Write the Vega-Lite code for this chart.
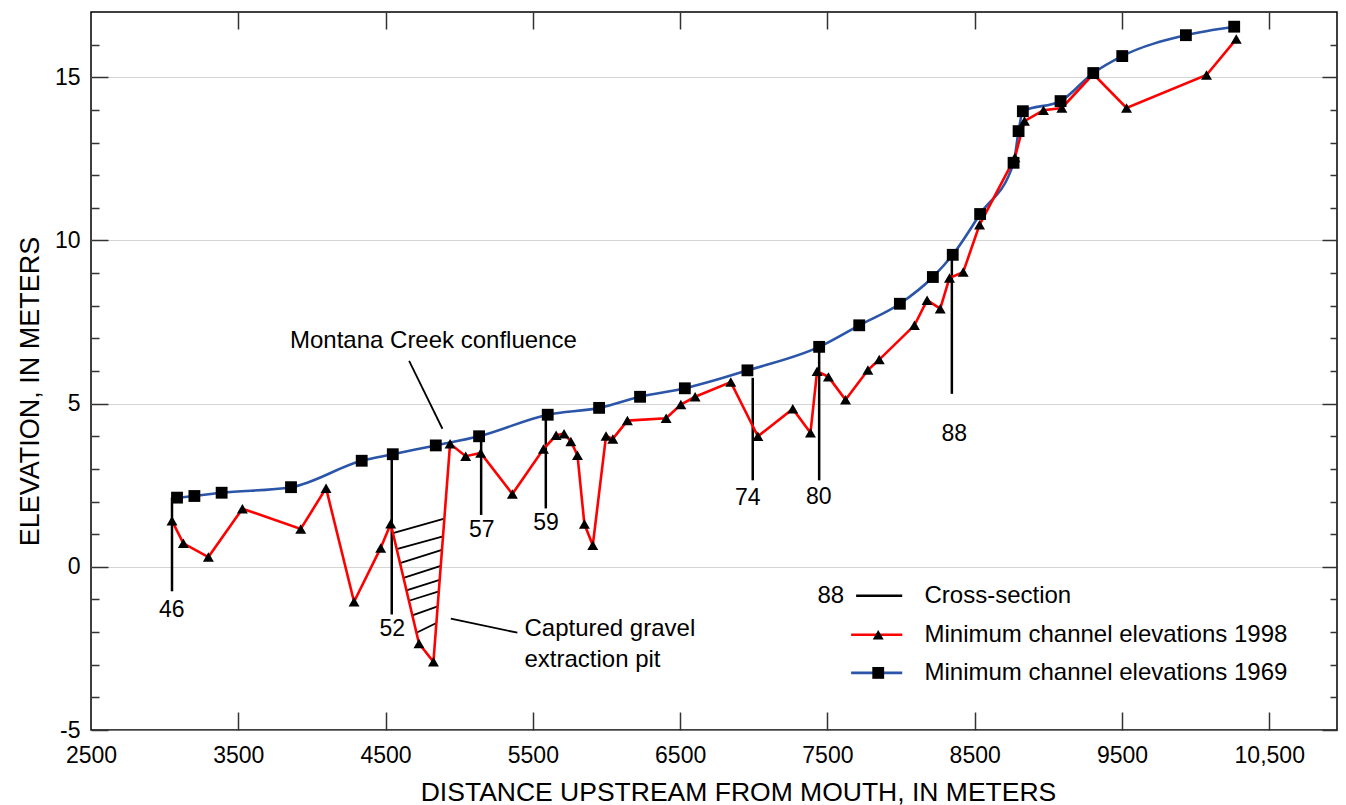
{
  "$schema": "https://vega.github.io/schema/vega-lite/v6.json",
  "width": 1246,
  "height": 718,
  "autosize": {"type": "none"},
  "padding": {"left": 91, "top": 12, "right": 9, "bottom": 75},
  "background": "#ffffff",
  "config": {
    "view": {"stroke": "#000000", "strokeWidth": 1.5},
    "font": "Liberation Sans",
    "text": {"font": "Liberation Sans", "fontSize": 23, "color": "#000000"}
  },
  "resolve": {"axis": {"x": "independent", "y": "independent"}},
  "datasets": {
    "s1969": [
      {"d": 3084, "e": 2.12}, {"d": 3202, "e": 2.17}, {"d": 3387, "e": 2.27}, {"d": 3858, "e": 2.44},
      {"d": 4338, "e": 3.25}, {"d": 4549, "e": 3.45}, {"d": 4841, "e": 3.72}, {"d": 5135, "e": 4.0},
      {"d": 5601, "e": 4.66}, {"d": 5950, "e": 4.87}, {"d": 6228, "e": 5.21}, {"d": 6532, "e": 5.47},
      {"d": 6957, "e": 6.02}, {"d": 7444, "e": 6.74}, {"d": 7716, "e": 7.4}, {"d": 7992, "e": 8.06},
      {"d": 8216, "e": 8.88}, {"d": 8351, "e": 9.56}, {"d": 8537, "e": 10.81}, {"d": 8764, "e": 12.38},
      {"d": 8798, "e": 13.35}, {"d": 8827, "e": 13.96}, {"d": 9083, "e": 14.27}, {"d": 9305, "e": 15.13},
      {"d": 9502, "e": 15.65}, {"d": 9934, "e": 16.29}, {"d": 10262, "e": 16.55}
    ],
    "s1998": [
      {"d": 3050, "e": 1.41}, {"d": 3127, "e": 0.72}, {"d": 3297, "e": 0.3}, {"d": 3528, "e": 1.78},
      {"d": 3924, "e": 1.16}, {"d": 4096, "e": 2.41}, {"d": 4286, "e": -1.07}, {"d": 4467, "e": 0.58},
      {"d": 4535, "e": 1.32}, {"d": 4727, "e": -2.35}, {"d": 4825, "e": -2.91}, {"d": 4938, "e": 3.77},
      {"d": 5044, "e": 3.39}, {"d": 5146, "e": 3.49}, {"d": 5361, "e": 2.23}, {"d": 5572, "e": 3.61},
      {"d": 5658, "e": 4.03}, {"d": 5712, "e": 4.08}, {"d": 5758, "e": 3.84}, {"d": 5803, "e": 3.42},
      {"d": 5850, "e": 1.31}, {"d": 5907, "e": 0.66}, {"d": 5997, "e": 4.01}, {"d": 6043, "e": 3.92},
      {"d": 6142, "e": 4.48}, {"d": 6405, "e": 4.55}, {"d": 6505, "e": 4.97}, {"d": 6602, "e": 5.21},
      {"d": 6844, "e": 5.66}, {"d": 7028, "e": 4.0}, {"d": 7265, "e": 4.84}, {"d": 7385, "e": 4.11},
      {"d": 7430, "e": 5.99}, {"d": 7507, "e": 5.82}, {"d": 7623, "e": 5.12}, {"d": 7775, "e": 6.03},
      {"d": 7852, "e": 6.35}, {"d": 8091, "e": 7.4}, {"d": 8177, "e": 8.17}, {"d": 8266, "e": 7.91},
      {"d": 8329, "e": 8.85}, {"d": 8422, "e": 9.03}, {"d": 8533, "e": 10.48}, {"d": 8773, "e": 12.54},
      {"d": 8838, "e": 13.66}, {"d": 8967, "e": 13.99}, {"d": 9092, "e": 14.06}, {"d": 9305, "e": 15.1},
      {"d": 9531, "e": 14.06}, {"d": 10074, "e": 15.07}, {"d": 10276, "e": 16.17}
    ],
    "xsec": [
      {"id": "46", "d": 3050, "top": 2.12, "bot": -0.75, "lx": 3048, "ly": -1.31},
      {"id": "52", "d": 4542, "top": 3.45, "bot": -1.46, "lx": 4546, "ly": -1.89},
      {"id": "57", "d": 5149, "top": 4.0, "bot": 1.59, "lx": 5153, "ly": 1.13},
      {"id": "59", "d": 5588, "top": 4.66, "bot": 1.79, "lx": 5590, "ly": 1.33},
      {"id": "74", "d": 6993, "top": 5.79, "bot": 2.65, "lx": 6960, "ly": 2.1},
      {"id": "80", "d": 7444, "top": 6.74, "bot": 2.65, "lx": 7441, "ly": 2.14},
      {"id": "88", "d": 8345, "top": 9.57, "bot": 5.3, "lx": 8361, "ly": 4.08}
    ],
    "hatch": [
      {"d1": 4550, "e1": 1.03, "d2": 4899, "e2": 1.48},
      {"d1": 4575, "e1": 0.54, "d2": 4890, "e2": 0.93},
      {"d1": 4598, "e1": 0.11, "d2": 4883, "e2": 0.52},
      {"d1": 4622, "e1": -0.34, "d2": 4875, "e2": 0.03},
      {"d1": 4642, "e1": -0.72, "d2": 4867, "e2": -0.4},
      {"d1": 4659, "e1": -1.04, "d2": 4862, "e2": -0.75},
      {"d1": 4682, "e1": -1.49, "d2": 4854, "e2": -1.21},
      {"d1": 4710, "e1": -2.02, "d2": 4845, "e2": -1.72}
    ],
    "leaders": [
      {"d1": 4660, "e1": 6.31, "d2": 4886, "e2": 4.23},
      {"d1": 4943, "e1": -1.59, "d2": 5395, "e2": -2.02}
    ],
    "notes": [
      {"text": "Montana Creek confluence", "d": 3851, "e": 6.92},
      {"text": "Captured gravel", "d": 5443, "e": -1.92},
      {"text": "extraction pit", "d": 5443, "e": -2.84}
    ],
    "legend": [
      {"key": "cross", "label": "Cross-section", "d1": 7695, "d2": 8008, "dm": 7845, "dt": 8159, "dn": 7614, "e": -0.89},
      {"key": "1998", "label": "Minimum channel elevations 1998", "d1": 7661, "d2": 8008, "dm": 7845, "dt": 8159, "dn": 7614, "e": -2.08},
      {"key": "1969", "label": "Minimum channel elevations 1969", "d1": 7661, "d2": 8008, "dm": 7845, "dt": 8159, "dn": 7614, "e": -3.25}
    ]
  },
  "layer": [
    {
      "data": {"name": "hatch"},
      "mark": {"type": "rule", "color": "#000000", "strokeWidth": 1.8},
      "encoding": {
        "x": {"field": "d1", "type": "quantitative", "scale": {"domain": [2500, 10960], "nice": false, "zero": false}, "axis": null},
        "x2": {"field": "d2"},
        "y": {"field": "e1", "type": "quantitative", "scale": {"domain": [-5, 17], "nice": false, "zero": false}, "axis": null},
        "y2": {"field": "e2"}
      }
    },
    {
      "data": {"name": "leaders"},
      "mark": {"type": "rule", "color": "#000000", "strokeWidth": 1.8},
      "encoding": {
        "x": {"field": "d1", "type": "quantitative", "scale": {"domain": [2500, 10960], "nice": false, "zero": false}, "axis": null},
        "x2": {"field": "d2"},
        "y": {"field": "e1", "type": "quantitative", "scale": {"domain": [-5, 17], "nice": false, "zero": false}, "axis": null},
        "y2": {"field": "e2"}
      }
    },
    {
      "data": {"name": "xsec"},
      "mark": {"type": "rule", "color": "#000000", "strokeWidth": 2.5},
      "encoding": {
        "x": {"field": "d", "type": "quantitative", "scale": {"domain": [2500, 10960], "nice": false, "zero": false}, "axis": null},
        "y": {"field": "top", "type": "quantitative", "scale": {"domain": [-5, 17], "nice": false, "zero": false},
          "axis": {"orient": "left", "values": [-5, 0, 5, 10, 15], "labels": false, "domain": false, "grid": false, "ticks": true, "tickSize": -17, "tickColor": "#333333", "tickWidth": 1.5, "title": null}},
        "y2": {"field": "bot"}
      }
    },
    {
      "data": {"name": "s1969"},
      "mark": {"type": "line", "color": "#2b55a8", "strokeWidth": 2.6, "interpolate": "monotone"},
      "encoding": {
        "x": {"field": "d", "type": "quantitative", "scale": {"domain": [2500, 10960], "nice": false, "zero": false},
          "axis": {"orient": "bottom", "values": [2500, 3500, 4500, 5500, 6500, 7500, 8500, 9500, 10500], "ticks": false, "domain": false, "grid": false,
            "labelFlush": false, "labelOverlap": false, "labelPadding": 14, "labelFontSize": 23, "labelFont": "Liberation Sans", "labelColor": "#000000",
            "labelExpr": "datum.value >= 10000 ? format(datum.value, ',') : format(datum.value, 'd')",
            "title": "DISTANCE UPSTREAM FROM MOUTH, IN METERS", "titleFont": "Liberation Sans", "titleFontSize": 26.5, "titleFontWeight": "normal", "titleColor": "#000000",
            "titleX": 647, "titleY": 62, "titleBaseline": "middle", "titleAlign": "center"}},
        "y": {"field": "e", "type": "quantitative", "scale": {"domain": [-5, 17], "nice": false, "zero": false},
          "axis": {"orient": "left", "values": [-5, 0, 5, 10, 15], "ticks": false, "domain": false, "grid": true, "gridColor": "#a8a8a8", "gridDash": [1, 1], "gridWidth": 1,
            "labelPadding": 11, "labelFontSize": 23, "labelFont": "Liberation Sans", "labelColor": "#000000", "labelExpr": "datum.value + ''",
            "title": "ELEVATION, IN METERS", "titleFont": "Liberation Sans", "titleFontSize": 27, "titleFontWeight": "normal", "titleColor": "#000000",
            "titleX": -61, "titleY": 379, "titleBaseline": "middle", "titleAlign": "center", "titleAngle": -90}}
      }
    },
    {
      "data": {"name": "s1998"},
      "mark": {"type": "line", "color": "#ff0000", "strokeWidth": 2.6},
      "encoding": {
        "x": {"field": "d", "type": "quantitative", "scale": {"domain": [2500, 10960], "nice": false, "zero": false},
          "axis": {"orient": "bottom", "values": [3500, 4500, 5500, 6500, 7500, 8500, 9500, 10500], "labels": false, "domain": false, "grid": false, "ticks": true, "tickSize": -18, "tickColor": "#333333", "tickWidth": 1.5, "title": null}},
        "y": {"field": "e", "type": "quantitative", "scale": {"domain": [-5, 17], "nice": false, "zero": false},
          "axis": {"orient": "left", "values": [-4, -3, -2, -1, 1, 2, 3, 4, 6, 7, 8, 9, 11, 12, 13, 14, 16], "labels": false, "domain": false, "grid": false, "ticks": true, "tickSize": -8, "tickColor": "#333333", "tickWidth": 1.5, "title": null}}
      }
    },
    {
      "data": {"name": "s1969"},
      "mark": {"type": "point", "shape": "square", "filled": true, "color": "#000000", "size": 140, "opacity": 1},
      "encoding": {
        "x": {"field": "d", "type": "quantitative", "scale": {"domain": [2500, 10960], "nice": false, "zero": false},
          "axis": {"orient": "top", "values": [3500, 4500, 5500, 6500, 7500, 8500, 9500, 10500], "labels": false, "domain": false, "grid": false, "ticks": true, "tickSize": -17, "tickColor": "#333333", "tickWidth": 1.5, "title": null}},
        "y": {"field": "e", "type": "quantitative", "scale": {"domain": [-5, 17], "nice": false, "zero": false},
          "axis": {"orient": "right", "values": [-5, 0, 5, 10, 15], "labels": false, "domain": false, "grid": false, "ticks": true, "tickSize": -15, "tickColor": "#333333", "tickWidth": 1.5, "title": null}}
      }
    },
    {
      "data": {"name": "s1998"},
      "mark": {"type": "point", "shape": "triangle-up", "filled": true, "color": "#000000", "size": 120, "opacity": 1},
      "encoding": {
        "x": {"field": "d", "type": "quantitative", "scale": {"domain": [2500, 10960], "nice": false, "zero": false}, "axis": null},
        "y": {"field": "e", "type": "quantitative", "scale": {"domain": [-5, 17], "nice": false, "zero": false},
          "axis": {"orient": "right", "values": [-4, -3, -2, -1, 1, 2, 3, 4, 6, 7, 8, 9, 11, 12, 13, 14, 16], "labels": false, "domain": false, "grid": false, "ticks": true, "tickSize": -7, "tickColor": "#333333", "tickWidth": 1.5, "title": null}}
      }
    },
    {
      "data": {"name": "xsec"},
      "mark": {"type": "text", "align": "center", "baseline": "middle", "fontSize": 23, "font": "Liberation Sans", "color": "#000000"},
      "encoding": {
        "x": {"field": "lx", "type": "quantitative", "scale": {"domain": [2500, 10960], "nice": false, "zero": false}, "axis": null},
        "y": {"field": "ly", "type": "quantitative", "scale": {"domain": [-5, 17], "nice": false, "zero": false}, "axis": null},
        "text": {"field": "id"}
      }
    },
    {
      "data": {"name": "notes"},
      "mark": {"type": "text", "align": "left", "baseline": "middle", "fontSize": 24, "font": "Liberation Sans", "color": "#000000"},
      "encoding": {
        "x": {"field": "d", "type": "quantitative", "scale": {"domain": [2500, 10960], "nice": false, "zero": false}, "axis": null},
        "y": {"field": "e", "type": "quantitative", "scale": {"domain": [-5, 17], "nice": false, "zero": false}, "axis": null},
        "text": {"field": "text"}
      }
    },
    {
      "data": {"name": "legend"},
      "transform": [{"filter": "datum.key == 'cross'"}],
      "mark": {"type": "rule", "color": "#000000", "strokeWidth": 2.5},
      "encoding": {
        "x": {"field": "d1", "type": "quantitative", "scale": {"domain": [2500, 10960], "nice": false, "zero": false}, "axis": null},
        "x2": {"field": "d2"},
        "y": {"field": "e", "type": "quantitative", "scale": {"domain": [-5, 17], "nice": false, "zero": false}, "axis": null}
      }
    },
    {
      "data": {"name": "legend"},
      "transform": [{"filter": "datum.key == '1998'"}],
      "mark": {"type": "rule", "color": "#ff0000", "strokeWidth": 2.6},
      "encoding": {
        "x": {"field": "d1", "type": "quantitative", "scale": {"domain": [2500, 10960], "nice": false, "zero": false}, "axis": null},
        "x2": {"field": "d2"},
        "y": {"field": "e", "type": "quantitative", "scale": {"domain": [-5, 17], "nice": false, "zero": false}, "axis": null}
      }
    },
    {
      "data": {"name": "legend"},
      "transform": [{"filter": "datum.key == '1969'"}],
      "mark": {"type": "rule", "color": "#2b55a8", "strokeWidth": 2.6},
      "encoding": {
        "x": {"field": "d1", "type": "quantitative", "scale": {"domain": [2500, 10960], "nice": false, "zero": false}, "axis": null},
        "x2": {"field": "d2"},
        "y": {"field": "e", "type": "quantitative", "scale": {"domain": [-5, 17], "nice": false, "zero": false}, "axis": null}
      }
    },
    {
      "data": {"name": "legend"},
      "transform": [{"filter": "datum.key == '1998'"}],
      "mark": {"type": "point", "shape": "triangle-up", "filled": true, "color": "#000000", "size": 120, "opacity": 1},
      "encoding": {
        "x": {"field": "dm", "type": "quantitative", "scale": {"domain": [2500, 10960], "nice": false, "zero": false}, "axis": null},
        "y": {"field": "e", "type": "quantitative", "scale": {"domain": [-5, 17], "nice": false, "zero": false}, "axis": null}
      }
    },
    {
      "data": {"name": "legend"},
      "transform": [{"filter": "datum.key == '1969'"}],
      "mark": {"type": "point", "shape": "square", "filled": true, "color": "#000000", "size": 140, "opacity": 1},
      "encoding": {
        "x": {"field": "dm", "type": "quantitative", "scale": {"domain": [2500, 10960], "nice": false, "zero": false}, "axis": null},
        "y": {"field": "e", "type": "quantitative", "scale": {"domain": [-5, 17], "nice": false, "zero": false}, "axis": null}
      }
    },
    {
      "data": {"name": "legend"},
      "mark": {"type": "text", "align": "left", "baseline": "middle", "fontSize": 24, "font": "Liberation Sans", "color": "#000000"},
      "encoding": {
        "x": {"field": "dt", "type": "quantitative", "scale": {"domain": [2500, 10960], "nice": false, "zero": false}, "axis": null},
        "y": {"field": "e", "type": "quantitative", "scale": {"domain": [-5, 17], "nice": false, "zero": false}, "axis": null},
        "text": {"field": "label"}
      }
    },
    {
      "data": {"name": "legend"},
      "transform": [{"filter": "datum.key == 'cross'"}],
      "mark": {"type": "text", "align": "right", "baseline": "middle", "fontSize": 24, "font": "Liberation Sans", "color": "#000000"},
      "encoding": {
        "x": {"field": "dn", "type": "quantitative", "scale": {"domain": [2500, 10960], "nice": false, "zero": false}, "axis": null},
        "y": {"field": "e", "type": "quantitative", "scale": {"domain": [-5, 17], "nice": false, "zero": false}, "axis": null},
        "text": {"value": "88"}
      }
    }
  ]
}
